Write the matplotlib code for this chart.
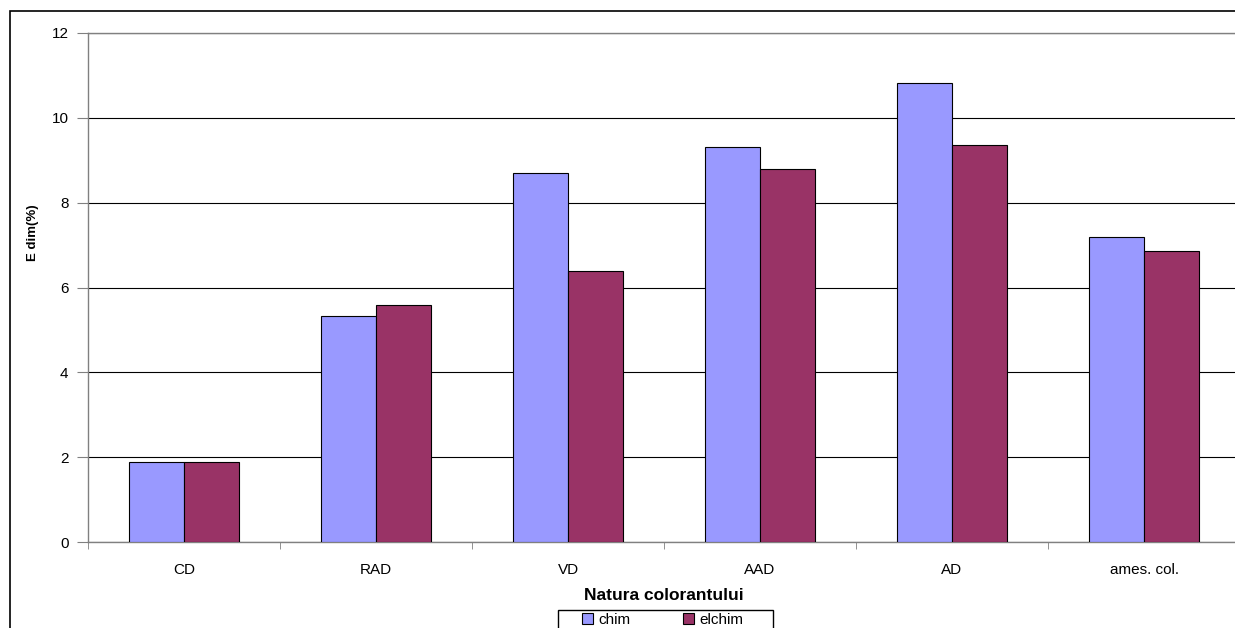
import matplotlib

matplotlib.use("Agg")

import matplotlib.pyplot as plt
from matplotlib.patches import Rectangle
import numpy as np

plt.rcParams["font.family"] = ["Liberation Sans", "DejaVu Sans"]

categories = ["CD", "RAD", "VD", "AAD", "AD", "ames. col."]
chim = [1.89, 5.33, 8.70, 9.31, 10.82, 7.20]
elchim = [1.89, 5.59, 6.38, 8.80, 9.36, 6.86]

W, H = 1235, 628
fig = plt.figure(figsize=(W / 100, H / 100), dpi=100)
ax = fig.add_axes([88 / W, 1 - 542 / H, 1152 / W, 509 / H])

x = np.arange(len(categories))
bw = 0.286
ax.bar(x - bw / 2, chim, bw, color="#9999ff", edgecolor="black", linewidth=0.8,
       label="chim", zorder=3)
ax.bar(x + bw / 2, elchim, bw, color="#993366", edgecolor="black", linewidth=0.8,
       label="elchim", zorder=3)

ax.set_xlim(-0.5, len(categories) - 0.5)
ax.set_ylim(0, 12)
ax.set_yticks(range(0, 13, 2))
ax.yaxis.grid(True, color="black", linewidth=0.8, zorder=0)
ax.set_axisbelow(True)

# category labels centred, tick marks on boundaries
ax.set_xticks(x)
ax.set_xticklabels(categories, fontsize=11)
ax.tick_params(axis="x", length=0, pad=15)
ax.set_xticks(np.arange(-0.5, len(categories), 1), minor=True)
ax.tick_params(axis="x", which="minor", length=5, color="#808080", direction="out")
ax.tick_params(axis="y", labelsize=11, length=8, color="#808080", direction="out", pad=6)

for s in ["left", "bottom", "top", "right"]:
    ax.spines[s].set_color("#808080")
    ax.spines[s].set_linewidth(1.0)

ax.set_xlabel("Natura colorantului", fontsize=12.5, fontweight="bold", labelpad=8)
ax.set_ylabel("E dim(%)", fontsize=9.5, fontweight="bold", va="center")
ax.yaxis.set_label_coords((33 - 88) / 1152, (542 - 233) / 509)

# legend: box drawn separately so it can run off the bottom edge
fig.legend(loc="upper left", bbox_to_anchor=(578 / W, 1 - 609 / H), ncol=2,
           frameon=False, fontsize=11,
           handlelength=0.75, handleheight=0.75, handletextpad=0.35,
           columnspacing=3.4, borderpad=0.25, borderaxespad=0)
fig.add_artist(Rectangle((558 / W, -0.05), 215 / W, 0.05 + 1 - 610 / H,
                         transform=fig.transFigure, fill=False,
                         edgecolor="black", linewidth=1.0))

fig.add_artist(Rectangle((10 / W, -0.1), 1.2, 1 - 11 / H + 0.1, transform=fig.transFigure,
                         fill=False, edgecolor="black", linewidth=1.2))

fig.savefig("out.png", dpi=100)
